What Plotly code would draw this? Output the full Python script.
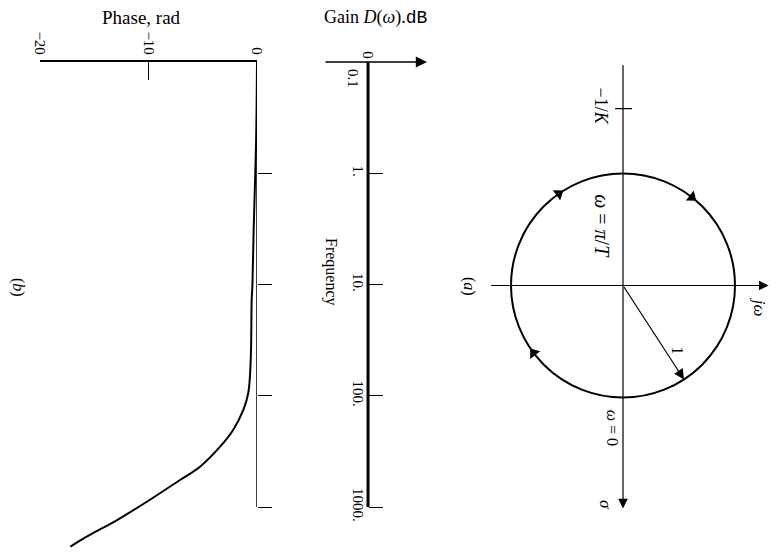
import math
import plotly.graph_objects as go

# ---- data -------------------------------------------------------------
# Bode plot (b): phase of the delay term versus frequency
freq = [0.1, 0.5, 3, 10, 13.8, 47.7, 94, 134, 203, 287, 434, 572, 865, 1310, 1850, 2275]
phase_rad = [0, -0.08, -0.3, -0.42, -0.49, -0.58, -0.8, -1.26, -2.2, -3.4, -5.25, -7.1,
             -9.9, -12.9, -15.7, -17.2]
# gain is flat at 0 dB over the plotted band
gain_freq = [0.1, 1000]
gain_db = [0, 0]

freq_ticks = [1, 10, 100, 1000]
freq_ticktext = ["1.", "10.", "100.", "1000."]
phase_ticks = [-20, -10, 0]
phase_ticktext = ["\u221220", "\u221210", "0"]

# Nyquist plot (a): unit circle, critical point -1/K, direction marks
radius = 1.0
crit_point = -1.58           # sigma position of -1/K
dir_marks_deg = [53, 145, 218]   # omega*T where the direction arrows sit
radius_mark_deg = 327            # omega*T of the radius arrow tip
sigma_extent = [-1.98, 1.99]
jw_extent = [-1.19, 1.30]

W, H = 783, 552
FONT = "Liberation Serif"


def px(x):
    return x / W


def py(y):
    return 1 - y / H


fig = go.Figure()

# ---- phase panel -------------------------------------------------------
fig.add_trace(go.Scatter(x=[0, 0], y=[0.1, 1000], mode="lines",
                         line=dict(color="black", width=1.5),
                         xaxis="x", yaxis="y", hoverinfo="skip"))
fig.add_trace(go.Scatter(x=phase_rad, y=freq, mode="lines",
                         line=dict(color="black", width=2, shape="spline"),
                         xaxis="x", yaxis="y"))

# ---- gain panel --------------------------------------------------------
fig.add_trace(go.Scatter(x=gain_db, y=gain_freq, mode="lines",
                         line=dict(color="black", width=3),
                         xaxis="x2", yaxis="y2"))

# ---- Nyquist panel -----------------------------------------------------
fig.add_shape(type="circle", xref="x3", yref="y3",
              x0=-radius, y0=-radius, x1=radius, y1=radius,
              line=dict(color="black", width=2))

fig.add_trace(go.Scatter(x=[-0.07, 0.08], y=[crit_point, crit_point], mode="lines",
                         line=dict(color="black", width=1.2),
                         xaxis="x3", yaxis="y3"))

mx, my, ang = [], [], []
for d in dir_marks_deg:
    t = math.radians(d)
    mx.append(-radius * math.sin(t))
    my.append(radius * math.cos(t))
    ang.append(math.degrees(math.atan2(-math.cos(t), math.sin(t))))
fig.add_trace(go.Scatter(x=mx, y=my, mode="markers",
                         marker=dict(symbol="triangle-up", size=11, color="black", angle=ang),
                         xaxis="x3", yaxis="y3", cliponaxis=False))

arrow_common = dict(text="", showarrow=True, arrowhead=2, arrowcolor="black",
                    standoff=0, startstandoff=0)
# sigma axis (pointing down) and j-omega axis (pointing right)
fig.add_annotation(xref="x3", yref="y3", axref="x3", ayref="y3",
                   x=0, y=sigma_extent[1], ax=0, ay=sigma_extent[0],
                   arrowwidth=1.2, arrowsize=1.6, **arrow_common)
fig.add_annotation(xref="x3", yref="y3", axref="x3", ayref="y3",
                   x=jw_extent[1], y=0, ax=jw_extent[0], ay=0,
                   arrowwidth=1.2, arrowsize=1.6, **arrow_common)
# radius arrow
t = math.radians(radius_mark_deg)
fig.add_annotation(xref="x3", yref="y3", axref="x3", ayref="y3",
                   x=-radius * math.sin(t), y=radius * math.cos(t), ax=0, ay=0,
                   arrowwidth=1.2, arrowsize=1.7, **arrow_common)
# gain axis arrow (0 dB line direction)
fig.add_annotation(xref="x2", yref="y2", axref="x2", ayref="y2",
                   x=2.68, y=-1, ax=-2, ay=-1,
                   arrowwidth=1.6, arrowsize=1.4, **arrow_common)

# ---- labels ------------------------------------------------------------
def label(text, x, y, size=16, angle=90):
    fig.add_annotation(text=text, xref="paper", yref="paper", x=px(x), y=py(y),
                       xanchor="center", yanchor="middle",
                       showarrow=False, textangle=angle,
                       font=dict(family=FONT, size=size, color="black"))


label("Phase, rad", 141, 17, size=19, angle=0)
label("Gain <i>D</i>(<i>\u03c9</i>).<span style='font-family:Liberation Mono'>dB</span>",
      376, 17, size=18, angle=0)
label("Frequency", 331, 272, size=16)
label("(<i>b</i>)", 18, 287, size=16)
label("(<i>a</i>)", 469, 286, size=16)

fig.add_annotation(text="0.1", xref="x2", yref="y2", x=0, y=-1, xshift=-15, yshift=-16,
                   xanchor="center", yanchor="middle",
                   showarrow=False, textangle=90,
                   font=dict(family=FONT, size=15, color="black"))


def nlabel(text, x, y, xs=0, ys=0, size=16):
    fig.add_annotation(text=text, xref="x3", yref="y3", x=x, y=y, xshift=xs, yshift=ys,
                       xanchor="center", yanchor="middle",
                       showarrow=False, textangle=90,
                       font=dict(family=FONT, size=size, color="black"))


nlabel("\u22121/<i>K</i>", 0, crit_point, xs=-22, ys=3, size=18)
nlabel("<i>\u03c9</i> = <i>\u03c0</i>/<i>T</i>", 0, -0.53, xs=-21, size=20)
nlabel("<i>\u03c9</i> = 0", 0, 1.27, xs=-11, size=16)
nlabel("<i>j\u03c9</i>", 1.22, 0, ys=-22, size=17)
nlabel("<i>\u03c3</i>", 0, 1.95, xs=-18, size=17)
nlabel("1", 0.49, 0.58, size=16)

# ---- axes --------------------------------------------------------------
freq_range = [math.log10(2512), -1]      # reversed: 0.1 at top
freq_dom = [py(551.5), py(62)]
tickfont = dict(family=FONT, size=15, color="black")

fig.update_layout(
    width=W, height=H, autosize=False, margin=dict(l=0, r=0, t=0, b=0, pad=0),
    paper_bgcolor="white", plot_bgcolor="white", showlegend=False,
    xaxis=dict(domain=[px(40), px(257)], range=[-20, 0], anchor="y", side="top",
               showline=True, linecolor="black", linewidth=1.8, showgrid=False, zeroline=False,
               tickvals=phase_ticks, ticktext=phase_ticktext, ticks="inside", ticklen=18,
               tickwidth=1, tickcolor="black", tickangle=90, tickfont=tickfont,
               automargin=False),
    yaxis=dict(domain=freq_dom, type="log", range=freq_range, anchor="x", side="right",
               showline=False, showgrid=False, zeroline=False,
               tickvals=freq_ticks, ticks="outside", ticklen=14, tickwidth=1.2,
               tickcolor="black", showticklabels=False, automargin=False),
    xaxis2=dict(domain=[px(324), px(427)], range=[-2, 2.68], anchor="y2", side="top",
                showline=False, showgrid=False, zeroline=False,
                tickvals=[0], ticktext=["0"], ticks="", tickangle=90, tickfont=tickfont,
                automargin=False),
    yaxis2=dict(domain=freq_dom, type="log", range=freq_range, anchor="free",
                position=px(368), side="left",
                showline=False, showgrid=False, zeroline=False,
                tickvals=freq_ticks, ticktext=freq_ticktext, ticks="inside", ticklen=14,
                tickwidth=1.2, tickcolor="black", tickangle=90, tickfont=tickfont,
                automargin=False),
    xaxis3=dict(domain=[px(483), px(774.2)], range=[-1.25, 1.35], anchor="y3",
                visible=False),
    yaxis3=dict(domain=[py(520.7), py(50.3)], range=[2.1, -2.1], anchor="x3",
                visible=False),
)

fig.write_html("out.html", config={"responsive": False})
